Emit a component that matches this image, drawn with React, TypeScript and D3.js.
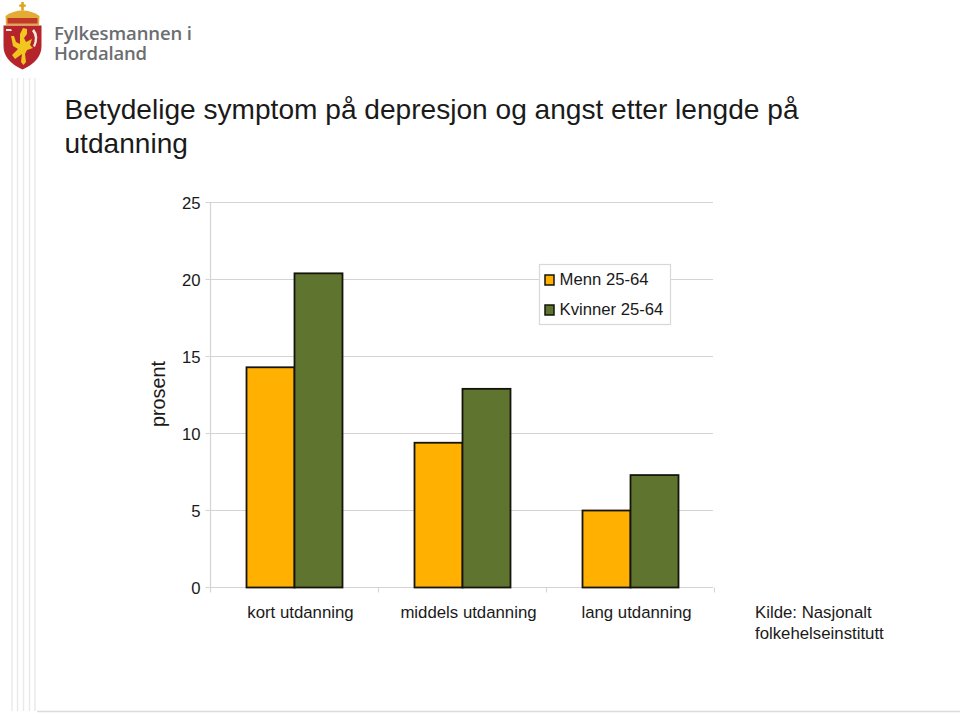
import React from "react";
import * as d3 from "d3";

const categories = ["kort utdanning", "middels utdanning", "lang utdanning"];
const seriesNames = ["Menn 25-64", "Kvinner 25-64"];
const menn = [14.3, 9.4, 5.0];
const kvinner = [20.4, 12.9, 7.3];
const yTicks = [0, 5, 10, 15, 20, 25];
const colors = ["#ffb000", "#5f752f"];
const titleLines = ["Betydelige symptom på depresjon og angst etter lengde på", "utdanning"];
const sourceLines = ["Kilde: Nasjonalt", "folkehelseinstitutt"];
const decorX = [12, 17.5, 23.5, 29.5, 35];

const font = "'Liberation Sans', Arial, sans-serif";

export default function App() {
  const y = d3.scaleLinear().domain([0, 25]).range([587.5, 202.5]);
  const x0 = d3.scaleBand<string>().domain(categories).range([210.5, 714.5]);
  const x1 = d3.scaleBand<string>().domain(seriesNames).range([0, x0.bandwidth()]).paddingInner(0).paddingOuter(0.75);
  const values = [menn, kvinner];
  const tickEdges = [...categories.map((c) => x0(c) as number), 714.5];

  return (
    <svg width={960} height={714} style={{ position: "absolute", left: 0, top: 0, background: "#fff" }} fontFamily={font}>
      {/* decoration */}
      {decorX.map((d) => (
        <line key={d} x1={d} x2={d} y1={78} y2={711} stroke="#e9e9e9" strokeWidth={1.4} />
      ))}
      <line x1={37} x2={960} y1={711.5} y2={711.5} stroke="#dcdcdc" strokeWidth={1.5} />

      {/* logo */}
      <g>
        <path d="M21.2 2 h2.6 v2.6 h2 v2.2 h-2 v4 h-2.6 v-4 h-2 v-2.2 h2 z" fill="#d9a520" />
        <path d="M6 25 L5.5 16 Q13 10.5 22.5 10.5 Q32 10.5 39.5 16 L39 25 Z" fill="#e3ad35" />
        <rect x={7.5} y={18} width={30} height={5.5} fill="#c0392b" />
        <path d="M3.5 25.5 H41.5 V46 Q41.5 61 22.5 69.5 Q3.5 61 3.5 46 Z" fill="#b5242a" />
        <path d="M23 28 L27 29 L27 34 L24 38 L26 42 L32 39 L30 45 L33 48 L27 50 L25 54 L26 62 L23.5 65 L21 62 L22 54 L15 59 L12 55 L18 49 L13 46 L11 36 L14 36 L16 42 L20 44 L20 34 Z" fill="#f0c61f" />
        <path d="M6 29 h5 l1 2 h-6 z M34 29 q6 7 1 18 l-2 -1 q4 -9 -1 -15 z" fill="#f0e6da" />
        <text x={54} y={39.5} fontFamily="'Open Sans', sans-serif" fontWeight={600} fontSize={18.5} fill="#6b6e70" textLength={138}>Fylkesmannen i</text>
        <text x={54} y={60} fontFamily="'Open Sans', sans-serif" fontWeight={600} fontSize={18.5} fill="#6b6e70" textLength={93}>Hordaland</text>
      </g>

      {/* title */}
      {titleLines.map((t, i) => (
        <text key={t} x={64.5} y={119 + i * 34} fontSize={28.1} fill="#1a1a1a">{t}</text>
      ))}

      {/* grid and axes */}
      {yTicks.map((t) => (
        <g key={t}>
          <line x1={205.5} x2={713} y1={y(t)} y2={y(t)} stroke="#d4d4d4" strokeWidth={1.2} />
          <text x={200.5} y={y(t) + 6} textAnchor="end" fontSize={16.7} fill="#1a1a1a">{t}</text>
        </g>
      ))}
      <line x1={210.5} x2={210.5} y1={202.5} y2={592} stroke="#d4d4d4" strokeWidth={1.2} />
      {tickEdges.map((t) => (
        <line key={t} x1={t} x2={t} y1={587.5} y2={592.5} stroke="#d4d4d4" strokeWidth={1} />
      ))}

      {/* bars */}
      {categories.map((c, i) =>
        seriesNames.map((s, j) => (
          <rect
            key={c + s}
            x={(x0(c) as number) + (x1(s) as number)}
            y={y(values[j][i])}
            width={x1.bandwidth()}
            height={y(0) - y(values[j][i])}
            fill={colors[j]}
            stroke="#14140a"
            strokeWidth={1.8}
          />
        ))
      )}

      {/* category labels */}
      {categories.map((c) => (
        <text key={c} x={(x0(c) as number) + x0.bandwidth() / 2 + 6} y={617.5} textAnchor="middle" fontSize={16.8} fill="#1a1a1a">{c}</text>
      ))}

      {/* y axis title */}
      <text transform="translate(165,394) rotate(-90)" textAnchor="middle" fontSize={19.8} fill="#1a1a1a">prosent</text>

      {/* legend */}
      <rect x={539.5} y={264.5} width={131} height={60} fill="#fff" stroke="#d8d8d8" strokeWidth={1.2} />
      {seriesNames.map((s, i) => (
        <g key={s}>
          <rect x={545} y={275 + i * 30} width={9} height={10} fill={colors[i]} stroke="#14140a" strokeWidth={1.5} />
          <text x={559.5} y={285 + i * 30} fontSize={16.7} fill="#1a1a1a">{s}</text>
        </g>
      ))}

      {/* source */}
      {sourceLines.map((t, i) => (
        <text key={t} x={755} y={618 + i * 20.5} fontSize={16.8} fill="#1a1a1a">{t}</text>
      ))}
    </svg>
  );
}
